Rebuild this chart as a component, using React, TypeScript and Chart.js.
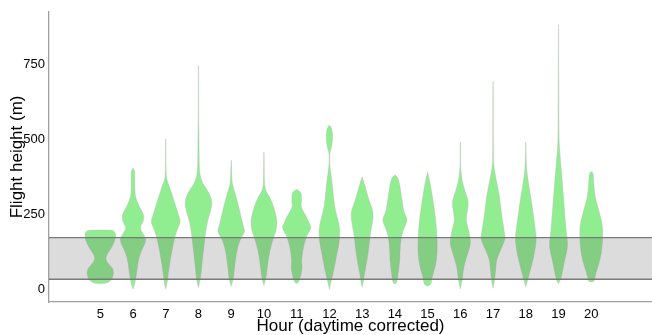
import { useEffect, useRef } from "react";
import { Chart, registerables } from "chart.js";

Chart.register(...registerables);

// Hours of the day (daytime corrected)
const hours = [5, 6, 7, 8, 9, 10, 11, 12, 13, 14, 15, 16, 17, 18, 19, 20];

// Violin profiles per hour: [flight height (m), density half-width]
const h5: [number, number][] = [[19, 0], [19, 5], [24, 9], [35, 12], [55, 13.5], [72, 12], [88, 7], [103, 5], [118, 7], [140, 11.5], [165, 15], [185, 15.5], [192, 14], [197, 12], [197, 0]];
const h6: [number, number][] = [[0, 0], [20, 2], [63, 4], [108, 5.8], [140, 10], [160, 13], [175, 12], [195, 8], [208, 7], [223, 10], [240, 11], [255, 10], [270, 7], [287, 5], [305, 2.5], [330, 1.8], [380, 1.8], [395, 1.7], [405, 0]];
const h7: [number, number][] = [[0, 0], [20, 1.5], [53, 2.5], [97, 4.5], [153, 7.5], [197, 11], [223, 15], [240, 13.5], [287, 9], [341, 4], [363, 1.2], [380, 0.5], [420, 0.25], [502, 0.15], [502, 0]];
const h8: [number, number][] = [[5, 0], [30, 2], [87, 3.5], [153, 5.8], [220, 8.3], [263, 12.5], [290, 13.7], [310, 12], [330, 9], [353, 4], [380, 1.4], [420, 0.7], [523, 0.5], [560, 0.2], [747, 0.15], [747, 0]];
const h9: [number, number][] = [[10, 0], [30, 2], [63, 3], [120, 5], [163, 8.3], [191, 14], [205, 12.5], [230, 10.7], [287, 6.7], [341, 2], [360, 0.7], [430, 0.15], [430, 0]];
const h10: [number, number][] = [[12, 0], [41, 2.5], [97, 4], [153, 7.5], [197, 12.5], [230, 13.3], [274, 10], [308, 5.8], [330, 1.2], [360, 0.4], [458, 0.15], [458, 0]];
const h11: [number, number][] = [[19, 0], [22, 2], [30, 2.7], [55, 4.8], [74, 5.5], [97, 4.7], [141, 6.7], [180, 10], [205, 15], [220, 12.5], [241, 10], [265, 5.5], [280, 4.2], [290, 4.8], [310, 5], [325, 4], [333, 0]];
const h12: [number, number][] = [[0, 0], [20, 1.2], [63, 4.5], [120, 7.5], [153, 9.7], [197, 10.7], [230, 8.8], [274, 5], [341, 3.3], [397, 1], [420, 0.3], [453, 0.2], [465, 1.5], [490, 3], [520, 3.3], [540, 2], [547, 0]];
const h13: [number, number][] = [[6, 0], [20, 1], [53, 2.3], [97, 5], [141, 6.7], [187, 8.3], [230, 10.8], [253, 11], [270, 10], [297, 6.7], [341, 3.3], [365, 1], [375, 0]];
const h14: [number, number][] = [[17, 0], [20, 2], [53, 3.3], [97, 5], [153, 5.3], [197, 8], [230, 13], [250, 10], [263, 8.7], [308, 6.7], [353, 4.7], [372, 3], [381, 0]];
const h15: [number, number][] = [[10, 0], [14, 3], [25, 4], [41, 4.5], [74, 7.8], [120, 9.7], [174, 9.5], [230, 8.3], [287, 5.8], [341, 3.3], [375, 1.2], [391, 0]];
const h16: [number, number][] = [[0, 0], [20, 1.2], [41, 2.3], [74, 3.3], [120, 7.5], [153, 10.5], [175, 9.5], [197, 8.3], [225, 6], [241, 6], [274, 7.8], [297, 8], [330, 4.3], [363, 1.7], [397, 0.5], [420, 0.2], [491, 0.15], [491, 0]];
const h17: [number, number][] = [[3, 0], [20, 1.2], [63, 2.5], [80, 3], [97, 3.5], [120, 6], [141, 9], [170, 12.5], [185, 11.5], [208, 10.5], [253, 8.3], [308, 6.7], [363, 3.3], [408, 0.8], [440, 0.3], [693, 0.15], [693, 0]];
const h18: [number, number][] = [[8, 0], [25, 1.5], [63, 4.5], [120, 8.8], [165, 10.5], [180, 10.3], [230, 8.3], [287, 6], [341, 3.3], [390, 1.2], [408, 0.8], [441, 0.3], [491, 0.15], [491, 0]];
const h19: [number, number][] = [[19, 0], [25, 1.5], [53, 3.7], [97, 6], [141, 9.5], [174, 8.3], [230, 6.7], [308, 5], [363, 3.7], [430, 2], [474, 0.8], [520, 0.4], [680, 0.3], [760, 0.15], [883, 0.1], [883, 0]];
const h20: [number, number][] = [[24, 0], [25, 2.5], [30, 3], [53, 4.5], [97, 8.8], [141, 11], [197, 11.7], [230, 10.3], [274, 6.7], [297, 4.5], [320, 3.5], [350, 2.5], [385, 2.2], [393, 0]];

const profiles = [h5, h6, h7, h8, h9, h10, h11, h12, h13, h14, h15, h16, h17, h18, h19, h20];

// Axis ticks
const yTicks = [0, 250, 500, 750];

// Height band shaded across the plot
const bandLow = 33;
const bandHigh = 172;

// Axis ranges
const X_MIN = 3.433;
const X_MAX = 21.856;
const Y_MIN = -43;
const Y_MAX = 926;

// hours per unit of density half-width
const WIDTH_UNIT = 1 / 32.73;

const FONT = "'Liberation Sans', Arial, sans-serif";

const violinPlugin = {
  id: "violins",
  afterDatasetsDraw(chart: any) {
    const { ctx, chartArea: a, scales } = chart;
    const xs = scales.x;
    const ys = scales.y;
    ctx.save();
    ctx.beginPath();
    ctx.rect(a.left, a.top, a.right - a.left, a.bottom - a.top);
    ctx.clip();

    hours.forEach((h, i) => {
      const prof = profiles[i];
      const pts: [number, number][] = [];
      for (const [v, d] of prof) {
        pts.push([xs.getPixelForValue(h + d * WIDTH_UNIT), ys.getPixelForValue(v)]);
      }
      for (let j = prof.length - 1; j >= 0; j--) {
        const [v, d] = prof[j];
        pts.push([xs.getPixelForValue(h - d * WIDTH_UNIT), ys.getPixelForValue(v)]);
      }
      // smoothed closed outline through midpoints
      ctx.beginPath();
      ctx.moveTo(pts[0][0], pts[0][1]);
      for (let k = 1; k < pts.length - 1; k++) {
        const mx = (pts[k][0] + pts[k + 1][0]) / 2;
        const my = (pts[k][1] + pts[k + 1][1]) / 2;
        ctx.quadraticCurveTo(pts[k][0], pts[k][1], mx, my);
      }
      ctx.lineTo(pts[pts.length - 1][0], pts[pts.length - 1][1]);
      ctx.closePath();
      ctx.fillStyle = "#90EE90";
      ctx.fill();
      ctx.strokeStyle = "rgba(185,185,185,0.55)";
      ctx.lineWidth = 0.7;
      ctx.stroke();
    });

    // shaded band
    const yl = ys.getPixelForValue(bandLow);
    const yh = ys.getPixelForValue(bandHigh);
    ctx.fillStyle = "rgba(80,80,80,0.2)";
    ctx.fillRect(a.left, yh, a.right - a.left, yl - yh);
    ctx.strokeStyle = "#7a7a7a";
    ctx.lineWidth = 1.3;
    ctx.beginPath();
    ctx.moveTo(a.left, yh);
    ctx.lineTo(a.right, yh);
    ctx.moveTo(a.left, yl);
    ctx.lineTo(a.right, yl);
    ctx.stroke();
    ctx.restore();
  },
};

export default function App() {
  const ref = useRef<HTMLCanvasElement | null>(null);

  useEffect(() => {
    if (!ref.current) return;
    const chart = new Chart(ref.current, {
      type: "scatter",
      data: { datasets: [{ data: [], pointRadius: 0 }] },
      options: {
        animation: false,
        responsive: false,
        maintainAspectRatio: false,
        layout: { padding: { top: 11, right: 0, left: 0, bottom: 0 } },
        plugins: { legend: { display: false }, tooltip: { enabled: false } },
        scales: {
          x: {
            type: "linear",
            min: X_MIN,
            max: X_MAX,
            afterBuildTicks: (s: any) => {
              s.ticks = hours.map((v) => ({ value: v }));
            },
            afterFit: (s: any) => {
              s.height = 35;
            },
            grid: { display: true, color: "rgba(0,0,0,0)", drawTicks: false },
            border: { display: true, color: "#a0a0a0", width: 1.3 },
            ticks: {
              color: "#000",
              font: { family: FONT, size: 13 },
              padding: 5,
              autoSkip: false,
              maxRotation: 0,
              callback: (v: any) => String(v),
            },
            title: {
              display: true,
              text: "Hour (daytime corrected)",
              color: "#000",
              font: { family: FONT, size: 17 },
              padding: { top: 0, bottom: 0 },
            },
          },
          y: {
            type: "linear",
            min: Y_MIN,
            max: Y_MAX,
            afterBuildTicks: (s: any) => {
              s.ticks = yTicks.map((v) => ({ value: v }));
            },
            afterFit: (s: any) => {
              s.width = 49;
            },
            grid: { display: true, color: "rgba(0,0,0,0)", drawTicks: false },
            border: { display: true, color: "#a0a0a0", width: 1.3 },
            ticks: {
              color: "#000",
              font: { family: FONT, size: 13 },
              padding: 4,
              callback: (v: any) => String(v),
            },
            title: {
              display: true,
              text: "Flight height (m)",
              color: "#000",
              font: { family: FONT, size: 17 },
              padding: { top: 7, bottom: 0 },
            },
          },
        },
      },
      plugins: [violinPlugin],
    });
    return () => chart.destroy();
  }, []);

  return (
    <div style={{ position: "absolute", left: 0, top: 0, width: 652, height: 335, overflow: "hidden" }}>
      <canvas ref={ref} width={652} height={337} style={{ display: "block" }} />
    </div>
  );
}
